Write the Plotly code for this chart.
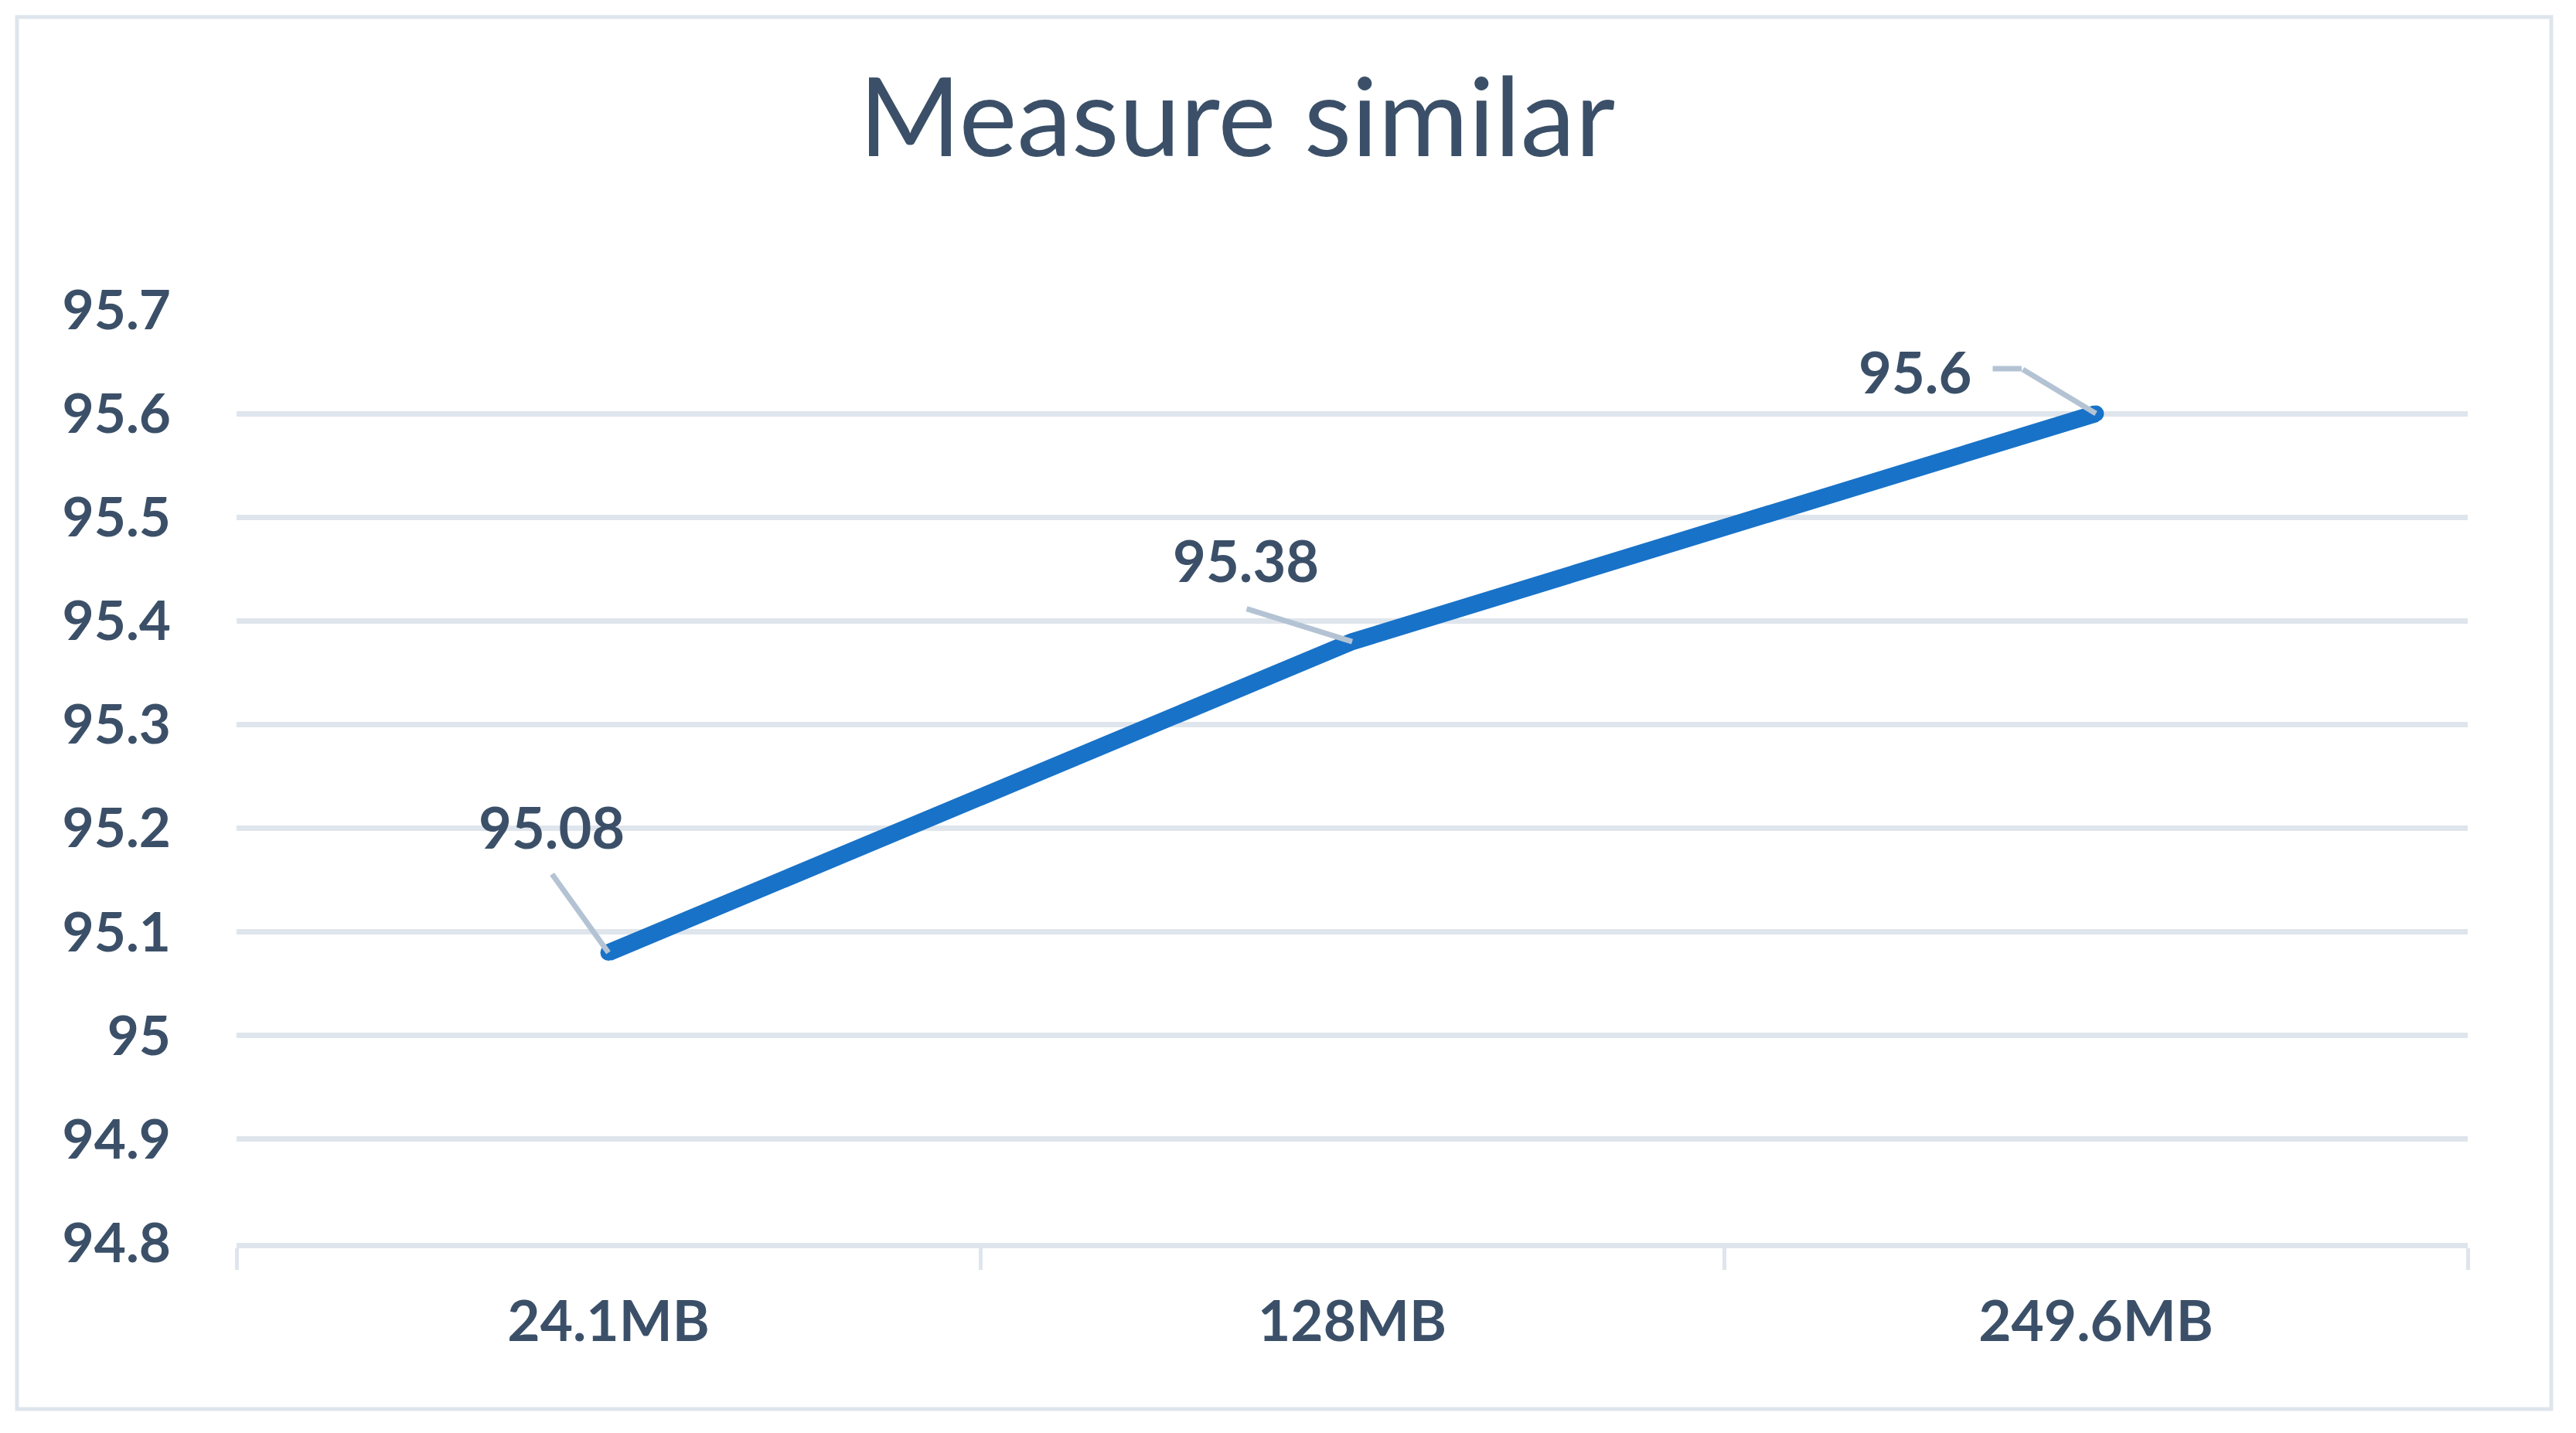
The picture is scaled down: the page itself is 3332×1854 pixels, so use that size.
import plotly.graph_objects as go

# ---- data ----
categories = ["24.1MB", "128MB", "249.6MB"]
values = [95.08, 95.38, 95.6]
label_texts = ["95.08", "95.38", "95.6"]
y_tickvals = [94.8, 94.9, 95.0, 95.1, 95.2, 95.3, 95.4, 95.5, 95.6, 95.7]
y_ticktext = ["94.8", "94.9", "95", "95.1", "95.2", "95.3", "95.4", "95.5", "95.6", "95.7"]
title_text = "Measure similar"

# ---- style ----
W, H = 3332, 1854
OFF = 8  # page body margin
PL, PR, PT, PB = 306, 3192, 401, 1608  # plot area in screen pixels
ML, MT = PL - OFF, PT - OFF
MR, MB = W - ML - (PR - PL), H - MT - (PB - PT)
TEXT = "#3b5068"
LINE = "#1872c8"
GRID = "#dfe5ec"
LEADER = "#b4c3d3"
FONT = "Lato"

# label text centre offsets (pixels, y down) relative to the point
label_offsets = [(-74, -163), (-138, -106), (-234, -55)]
# leader line start offsets (pixels, y down) relative to the point
leader_offsets = [(-74, -103), (-138, -43), (-96, -58)]

fig = go.Figure()
fig.add_trace(go.Scatter(
    x=categories, y=values, mode="lines+markers",
    line=dict(color=LINE, width=22),
    marker=dict(color=LINE, size=21),
    hoverinfo="skip", showlegend=False,
))

for i, (c, v, t) in enumerate(zip(categories, values, label_texts)):
    lx, ly = leader_offsets[i]
    fig.add_annotation(
        x=c, y=v, text="", showarrow=True, arrowhead=0, arrowwidth=7,
        arrowcolor=LEADER, ax=lx, ay=ly, standoff=0,
    )
    tx, ty = label_offsets[i]
    fig.add_annotation(
        x=c, y=v, text=t, showarrow=False, xshift=tx, yshift=-ty,
        xanchor="center", yanchor="middle",
        font=dict(family=FONT, size=74, color=TEXT, weight="bold"),
    )

# horizontal part of the last leader line (elbow)
lx, ly = leader_offsets[2]
fig.add_annotation(
    x=categories[2], y=values[2], text="", showarrow=True, arrowhead=0, arrowwidth=7,
    arrowcolor=LEADER, ax=-39, ay=0, standoff=0, xshift=lx, yshift=-ly,
)

# outer border in paper coords
pw, ph = PR - PL, PB - PT
def px_x(p): return (p - PL) / pw
def px_y(p): return 1 - (p - PT) / ph
fig.add_shape(type="rect", xref="paper", yref="paper",
              x0=px_x(22), x1=px_x(3300), y0=px_y(1823), y1=px_y(22),
              line=dict(color=GRID, width=5), fillcolor="rgba(0,0,0,0)", layer="below")

fig.update_layout(
    width=W, height=H,
    margin=dict(l=ML, r=MR, t=MT, b=MB),
    paper_bgcolor="white", plot_bgcolor="white",
    title=dict(text=title_text, x=(1600 - OFF) / W, xanchor="center",
               xref="container", yref="container", y=1 - (152 - OFF) / H, yanchor="middle",
               font=dict(family=FONT, size=142, color=TEXT)),
    xaxis=dict(
        type="category", range=[-0.5, 2.5], tickson="boundaries",
        ticks="outside", ticklen=28, tickwidth=5, tickcolor=GRID,
        showgrid=False, showline=True, linecolor=GRID, linewidth=7,
        tickfont=dict(family=FONT, size=73, color=TEXT, weight="bold"),
        ticklabelstandoff=32, fixedrange=True,
    ),
    yaxis=dict(
        range=[94.8, 95.7], tickvals=y_tickvals, ticktext=y_ticktext,
        showgrid=True, gridcolor=GRID, gridwidth=7, zeroline=False,
        showline=False, ticks="",
        tickfont=dict(family=FONT, size=71, color=TEXT, weight="bold"),
        ticklabelstandoff=84, fixedrange=True,
    ),
)

fig.write_html("out.html")
